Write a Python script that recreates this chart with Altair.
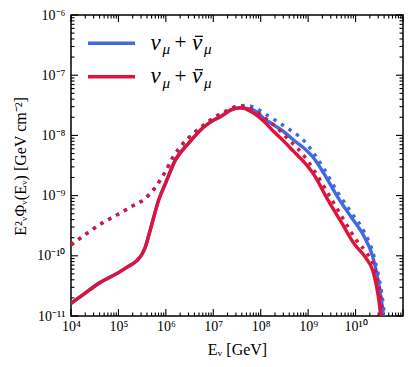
import altair as alt
import pandas as pd

# ---------------- data (log10 E [GeV], log10 E^2 Phi [GeV cm^-2]) ----------------
red_solid_logE = [4.00, 4.30, 4.58, 5.00, 5.20, 5.39, 5.50, 5.56, 5.64, 5.71,
                  5.85, 5.99, 6.20, 6.48, 6.80, 7.00, 7.15, 7.36, 7.58, 7.85,
                  8.07, 8.28, 8.49, 8.70, 8.91, 9.12, 9.40, 9.69, 9.97, 10.22,
                  10.36, 10.43, 10.50, 10.53, 10.56]
red_solid_logF = [-10.79, -10.62, -10.46, -10.28, -10.18, -10.08, -9.97, -9.87, -9.66, -9.46,
                  -9.07, -8.80, -8.41, -8.13, -7.86, -7.75, -7.69, -7.58, -7.54, -7.63,
                  -7.77, -7.94, -8.10, -8.27, -8.44, -8.65, -9.05, -9.43, -9.80, -10.04,
                  -10.24, -10.46, -10.79, -11.01, -11.30]

blue_solid_logE = [4.00, 4.30, 4.58, 5.00, 5.20, 5.39, 5.50, 5.56, 5.64, 5.71,
                   5.85, 5.99, 6.20, 6.48, 6.80, 7.00, 7.15, 7.36, 7.58, 7.85,
                   8.07, 8.28, 8.49, 8.70, 8.91, 9.12, 9.33, 9.62, 9.90, 10.18,
                   10.36, 10.46, 10.53, 10.59, 10.62]
blue_solid_logF = [-10.79, -10.62, -10.46, -10.28, -10.18, -10.08, -9.97, -9.87, -9.66, -9.46,
                   -9.07, -8.80, -8.41, -8.13, -7.86, -7.75, -7.69, -7.58, -7.54, -7.58,
                   -7.72, -7.83, -7.94, -8.08, -8.21, -8.38, -8.63, -9.02, -9.35, -9.68,
                   -10.01, -10.35, -10.68, -11.01, -11.30]

red_dotted_logE = [4.00, 4.33, 4.65, 4.97, 5.28, 5.56, 5.79, 5.99, 6.16, 6.37,
                   6.62, 6.78, 6.90, 7.04, 7.22, 7.38, 7.55, 7.72, 7.90, 8.14,
                   8.35, 8.56, 8.77, 8.98, 9.26, 9.47, 9.72, 10.00, 10.24, 10.38,
                   10.46, 10.54, 10.57, 10.60]
red_dotted_logF = [-9.82, -9.63, -9.46, -9.32, -9.18, -9.05, -8.85, -8.60, -8.35, -8.13,
                   -7.94, -7.84, -7.77, -7.69, -7.62, -7.55, -7.51, -7.53, -7.60, -7.74,
                   -7.88, -8.05, -8.21, -8.41, -8.75, -9.03, -9.36, -9.72, -9.96, -10.15,
                   -10.40, -10.75, -11.05, -11.30]

blue_dotted_logE = [4.00, 4.33, 4.65, 4.97, 5.28, 5.56, 5.79, 5.99, 6.16, 6.37,
                    6.62, 6.78, 6.90, 7.04, 7.22, 7.38, 7.55, 7.71, 7.92, 8.17,
                    8.35, 8.56, 8.77, 8.95, 9.12, 9.33, 9.62, 9.90, 10.18, 10.36,
                    10.47, 10.55, 10.61, 10.64]
blue_dotted_logF = [-9.82, -9.63, -9.46, -9.32, -9.18, -9.05, -8.85, -8.60, -8.35, -8.13,
                    -7.94, -7.84, -7.77, -7.69, -7.62, -7.55, -7.51, -7.50, -7.56, -7.68,
                    -7.77, -7.88, -7.99, -8.12, -8.30, -8.55, -8.94, -9.27, -9.60, -9.93,
                    -10.28, -10.62, -11.02, -11.30]

x_tick_values = [1e4, 1e5, 1e6, 1e7, 1e8, 1e9, 1e10]
x_tick_labels = ["10⁴", "10⁵", "10⁶", "10⁷", "10⁸", "10⁹", "10¹⁰"]
y_tick_values = [1e-11, 1e-10, 1e-9, 1e-8, 1e-7, 1e-6]
y_tick_labels = ["10⁻¹¹", "10⁻¹⁰", "10⁻⁹", "10⁻⁸", "10⁻⁷", "10⁻⁶"]

legend_label_parts = ["ν", "μ", "+", "ν", "μ"]

BLUE = "#4169E1"
RED = "#DC143C"
W, H = 332, 301
SERIF = "Liberation Serif"


def series(logE, logF):
    return pd.DataFrame({"E": [10 ** v for v in logE], "F": [10 ** v for v in logF]})


def label_expr(labels, first_exp):
    arr = "[" + ",".join("'" + s + "'" for s in labels) + "]"
    return f"{arr}[round(log(datum.value)/LN10) - ({first_exp})]"


xscale = alt.Scale(type="log", domain=[1e4, 1e11], nice=False)
yscale = alt.Scale(type="log", domain=[1e-11, 1e-6], nice=False)

x_enc = alt.X("E:Q", scale=xscale, title="Eᵥ [GeV]",
              axis=alt.Axis(values=x_tick_values, labelExpr=label_expr(x_tick_labels, 4),
                            labelFlush=False, labelOverlap=False,
                            labelPadding=3, titleX=W / 2, titleY=33, titleBaseline="middle",
                            titleAlign="center"))
y_enc = alt.Y("F:Q", scale=yscale, title="E²ᵥΦᵥ(Eᵥ)  [GeV cm⁻²]",
              axis=alt.Axis(values=y_tick_values, labelExpr=label_expr(y_tick_labels, -11),
                            labelFlush=False, labelOverlap=False,
                            labelPadding=6, titleX=-51, titleY=151, titleAngle=270,
                            titleBaseline="middle", titleAlign="center"))

# ---------- inward ticks on all four sides ----------
x_major = pd.DataFrame({"E": [10.0 ** e for e in range(4, 12)]})
x_minor = pd.DataFrame({"E": [m * 10.0 ** e for e in range(4, 11) for m in range(2, 10)]})
y_major = pd.DataFrame({"F": [10.0 ** e for e in range(-11, -5)]})
y_minor = pd.DataFrame({"F": [m * 10.0 ** e for e in range(-11, -6) for m in range(2, 10)]})

tick_layers = []
for df, L in ((x_major, 7), (x_minor, 3.5)):
    base = alt.Chart(df).mark_rule(color="black", strokeWidth=1.1)
    tick_layers.append(base.encode(x=x_enc, y=alt.value(H - L), y2=alt.value(H)))
    tick_layers.append(base.encode(x=x_enc, y=alt.value(0), y2=alt.value(L)))
for df, L in ((y_major, 7), (y_minor, 3.5)):
    base = alt.Chart(df).mark_rule(color="black", strokeWidth=1.1)
    tick_layers.append(base.encode(y=y_enc, x=alt.value(0), x2=alt.value(L)))
    tick_layers.append(base.encode(y=y_enc, x=alt.value(W - L), x2=alt.value(W)))

# ---------- curves ----------
def curve(df, color, dotted):
    kw = dict(color=color, strokeWidth=3.4, clip=True, interpolate="monotone")
    if dotted:
        kw.update(strokeDash=[3.4, 5.6], strokeCap="butt")
    return alt.Chart(df).mark_line(**kw).encode(x=x_enc, y=y_enc, order=alt.Order("E:Q"))

curves = [
    curve(series(blue_solid_logE, blue_solid_logF), BLUE, False),
    curve(series(blue_dotted_logE, blue_dotted_logF), BLUE, True),
    curve(series(red_solid_logE, red_solid_logF), RED, False),
    curve(series(red_dotted_logE, red_dotted_logF), RED, True),
]

# ---------- legend (line sample + mathematical label) ----------
one = pd.DataFrame({"k": [0]})
legend_layers = []
for color, yc in ((BLUE, 28.3), (RED, 61.7)):
    legend_layers.append(alt.Chart(one).mark_rule(color=color, strokeWidth=3.6).encode(
        x=alt.value(17), x2=alt.value(64), y=alt.value(yc)))
    base_y = yc + 6.5
    specs = [
        (legend_label_parts[0], 79.5, base_y, 23, "italic"),
        (legend_label_parts[1], 91.5, base_y + 4.5, 15, "italic"),
        (legend_label_parts[2], 103.5, base_y - 0.5, 21, "normal"),
        (legend_label_parts[3], 121, base_y, 23, "italic"),
        (legend_label_parts[4], 133, base_y + 4.5, 15, "italic"),
    ]
    for txt, xx, yy, fs, st in specs:
        legend_layers.append(alt.Chart(one).mark_text(
            text=txt, align="left", baseline="alphabetic", font=SERIF, fontSize=fs,
            fontStyle=st, color="black").encode(x=alt.value(xx), y=alt.value(yy)))
    legend_layers.append(alt.Chart(one).mark_rule(color="black", strokeWidth=1.2).encode(
        x=alt.value(124), x2=alt.value(132), y=alt.value(base_y - 13.5), y2=alt.value(base_y - 13.5)))

chart = alt.layer(*tick_layers, *curves, *legend_layers).properties(
    width=W, height=H,
    autosize=alt.AutoSizeParams(type="none"),
    padding={"left": 63, "top": 7, "right": 2, "bottom": 43},
).configure_axis(
    domain=False, ticks=False, grid=False,
    labelFont=SERIF, labelFontSize=14, labelColor="black",
    titleFont=SERIF, titleFontSize=16, titleFontWeight="normal", titleColor="black",
).configure_view(stroke="black", strokeWidth=1.5)

chart.save("out.html", embed_options={"renderer": "svg", "actions": False})
